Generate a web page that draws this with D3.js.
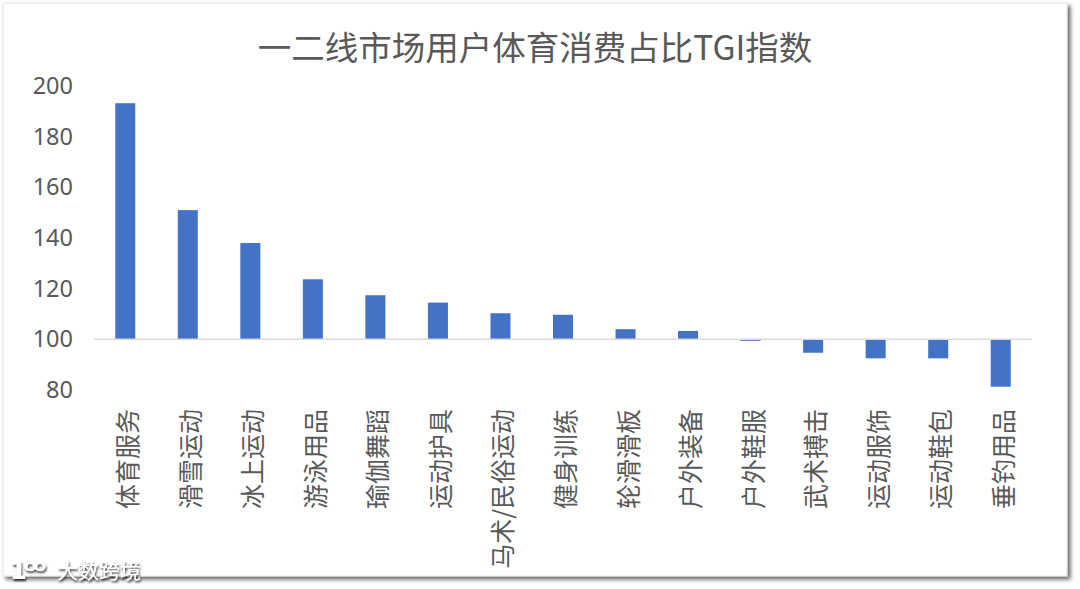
<!DOCTYPE html>
<html><head><meta charset="utf-8">
<script src="https://cdn.jsdelivr.net/npm/d3@7"></script>
<style>
html,body{margin:0;padding:0;background:#fff;}
svg{display:block;font-family:"Noto Sans CJK SC","Microsoft YaHei",sans-serif;}
</style></head><body>
<svg id="c" width="1080" height="589"></svg>
<script>
const title = "一二线市场用户体育消费占比TGI指数";
const categories = ["体育服务","滑雪运动","冰上运动","游泳用品","瑜伽舞蹈","运动护具","马术/民俗运动","健身训练","轮滑滑板","户外装备","户外鞋服","武术搏击","运动服饰","运动鞋包","垂钓用品"];
const values = [193.2,151,138,123.7,117.4,114.5,110.3,109.7,104,103.3,99.4,94.7,92.5,92.5,81.3];
const yTicks = [80,100,120,140,160,180,200];
const watermark = "大数跨境";

const svg = d3.select("#c");
const defs = svg.append("defs");
const f = defs.append("filter").attr("id","sh").attr("x","-5%").attr("y","-5%").attr("width","115%").attr("height","115%");
f.append("feGaussianBlur").attr("in","SourceAlpha").attr("stdDeviation",2);
f.append("feOffset").attr("dx",3).attr("dy",3).attr("result","ob");
f.append("feComponentTransfer").append("feFuncA").attr("type","linear").attr("slope",0.6);
const m = f.append("feMerge"); m.append("feMergeNode"); m.append("feMergeNode").attr("in","SourceGraphic");

const f2 = defs.append("filter").attr("id","tsh").attr("x","-10%").attr("y","-30%").attr("width","130%").attr("height","170%");
f2.append("feGaussianBlur").attr("in","SourceAlpha").attr("stdDeviation",1.2);
f2.append("feOffset").attr("dx",1).attr("dy",1.5);
f2.append("feComponentTransfer").append("feFuncA").attr("type","linear").attr("slope",0.8);
const m2 = f2.append("feMerge"); m2.append("feMergeNode"); m2.append("feMergeNode").attr("in","SourceGraphic");

svg.append("rect").attr("x",3).attr("y",3).attr("width",1064).attr("height",573)
  .attr("fill","#fff").attr("stroke","#e6e6e6").attr("stroke-width",1).attr("filter","url(#sh)");

const x = d3.scaleBand().domain(categories).range([94,1032]).paddingInner(0.68).paddingOuter(0.34);
const y = d3.scaleLinear().domain([80,200]).range([390,86]);

svg.append("text").attr("x",535).attr("y",60).attr("text-anchor","middle")
  .attr("font-size",33.5).attr("fill","#595959").text(title);

const yAxis = svg.append("g").attr("transform","translate(73,0)")
  .call(d3.axisLeft(y).tickValues(yTicks).tickSize(0).tickPadding(0));
yAxis.select(".domain").remove();
yAxis.selectAll("text").attr("font-size",23.5).attr("fill","#595959").attr("font-family","'Noto Sans','Open Sans',sans-serif");

svg.append("g").selectAll("rect").data(values).join("rect")
  .attr("x",(d,i)=>x(categories[i]))
  .attr("width",x.bandwidth())
  .attr("y",d=>y(Math.max(d,100)))
  .attr("height",d=>Math.abs(y(d)-y(100)))
  .attr("fill","#4472c4");

svg.append("line").attr("x1",94).attr("x2",1032).attr("y1",y(100)).attr("y2",y(100))
  .attr("stroke","#d9d9d9").attr("stroke-width",1.5);

svg.append("g").selectAll("text").data(categories).join("text")
  .attr("transform",d=>`translate(${x(d)+x.bandwidth()/2+12},409) rotate(-90)`)
  .attr("text-anchor","end").attr("font-size",25).attr("fill","#595959").text(d=>d);

const wm = svg.append("g").attr("filter","url(#tsh)");
wm.append("text").attr("x",10).attr("y",579).attr("font-size",24).attr("font-weight","bold")
  .attr("fill","#fff").attr("font-family","'DejaVu Sans',sans-serif").attr("letter-spacing",-3).text("1ᴼᴼ");
wm.append("text").attr("x",57).attr("y",578).attr("font-size",21).attr("fill","#fff").text(watermark);
</script></body></html>
